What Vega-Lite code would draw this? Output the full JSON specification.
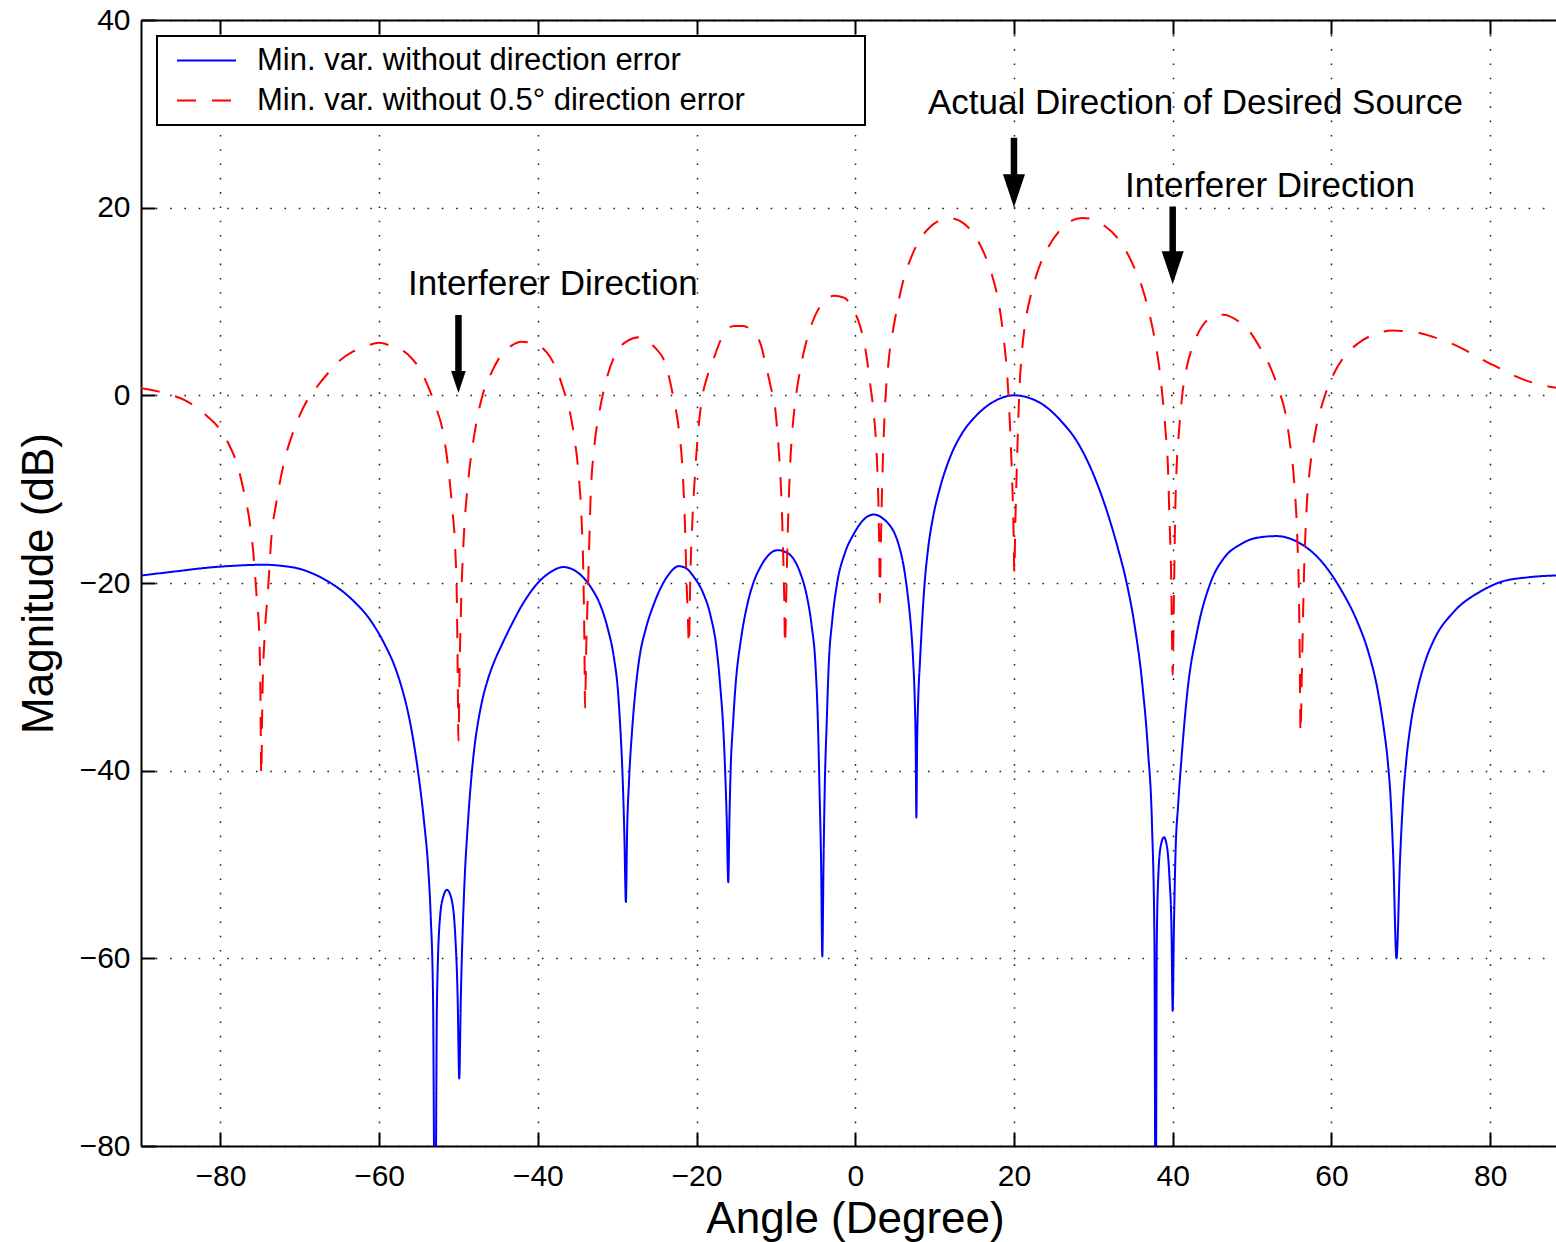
{
  "$schema": "https://vega.github.io/schema/vega-lite/v6.json",
  "width": 1415,
  "height": 1126,
  "autosize": {"type": "none"},
  "padding": {"left": 141, "top": 20, "right": 0, "bottom": 96},
  "background": "white",
  "config": {
    "font": "Liberation Sans",
    "view": {"stroke": null},
    "axis": {
      "grid": true,
      "gridColor": "#222222",
      "gridDash": [1.6, 12.7],
      "gridWidth": 1.5,
      "domainColor": "black",
      "domainWidth": 2,
      "tickColor": "black",
      "tickWidth": 2,
      "tickSize": -14,
      "labelFont": "Liberation Sans",
      "labelFontSize": 30,
      "labelColor": "black",
      "titleFont": "Liberation Sans",
      "titleFontSize": 44,
      "titleFontWeight": "normal",
      "titleColor": "black"
    },
    "legend": {
      "strokeColor": "black",
      "strokeWidth": 2,
      "fillColor": "white",
      "padding": 8,
      "labelFont": "Liberation Sans",
      "labelFontSize": 31,
      "labelColor": "black",
      "labelLimit": 1000,
      "symbolType": "stroke",
      "symbolSize": 3481,
      "symbolStrokeWidth": 2,
      "clipHeight": 33,
      "symbolOffset": 11,
      "labelOffset": 20,
      "rowPadding": 7
    }
  },
  "resolve": {"axis": {"x": "independent"}},
  "layer": [
    {
      "data": {
        "values": [
          {"angle": -90, "mag": -19.2, "series": "Min. var. without direction error"},
          {"angle": -86, "mag": -18.8, "series": "Min. var. without direction error"},
          {"angle": -82, "mag": -18.4, "series": "Min. var. without direction error"},
          {"angle": -78, "mag": -18.15, "series": "Min. var. without direction error"},
          {"angle": -74.5, "mag": -18.05, "series": "Min. var. without direction error"},
          {"angle": -72, "mag": -18.2, "series": "Min. var. without direction error"},
          {"angle": -70.2, "mag": -18.45, "series": "Min. var. without direction error"},
          {"angle": -68.2, "mag": -19.05, "series": "Min. var. without direction error"},
          {"angle": -66.4, "mag": -19.85, "series": "Min. var. without direction error"},
          {"angle": -64.5, "mag": -20.95, "series": "Min. var. without direction error"},
          {"angle": -63, "mag": -22.1, "series": "Min. var. without direction error"},
          {"angle": -61.5, "mag": -23.5, "series": "Min. var. without direction error"},
          {"angle": -60.3, "mag": -25.0, "series": "Min. var. without direction error"},
          {"angle": -59.2, "mag": -26.7, "series": "Min. var. without direction error"},
          {"angle": -58, "mag": -28.95, "series": "Min. var. without direction error"},
          {"angle": -57.2, "mag": -31.0, "series": "Min. var. without direction error"},
          {"angle": -56.4, "mag": -33.6, "series": "Min. var. without direction error"},
          {"angle": -55.6, "mag": -37.2, "series": "Min. var. without direction error"},
          {"angle": -54.9, "mag": -41.3, "series": "Min. var. without direction error"},
          {"angle": -54.3, "mag": -45.7, "series": "Min. var. without direction error"},
          {"angle": -53.8, "mag": -50.5, "series": "Min. var. without direction error"},
          {"angle": -53.5, "mag": -55.4, "series": "Min. var. without direction error"},
          {"angle": -53.2, "mag": -64.2, "series": "Min. var. without direction error"},
          {"angle": -52.95, "mag": -95, "series": "Min. var. without direction error"},
          {"angle": -52.7, "mag": -64.2, "series": "Min. var. without direction error"},
          {"angle": -52.3, "mag": -55.4, "series": "Min. var. without direction error"},
          {"angle": -51.9, "mag": -53.4, "series": "Min. var. without direction error"},
          {"angle": -51.45, "mag": -52.7, "series": "Min. var. without direction error"},
          {"angle": -50.9, "mag": -53.6, "series": "Min. var. without direction error"},
          {"angle": -50.4, "mag": -57.6, "series": "Min. var. without direction error"},
          {"angle": -50.1, "mag": -64.2, "series": "Min. var. without direction error"},
          {"angle": -49.9, "mag": -72.8, "series": "Min. var. without direction error"},
          {"angle": -49.7, "mag": -64.2, "series": "Min. var. without direction error"},
          {"angle": -49.3, "mag": -53.2, "series": "Min. var. without direction error"},
          {"angle": -48.8, "mag": -45.5, "series": "Min. var. without direction error"},
          {"angle": -48.4, "mag": -41.0, "series": "Min. var. without direction error"},
          {"angle": -48.0, "mag": -37.6, "series": "Min. var. without direction error"},
          {"angle": -47.5, "mag": -34.7, "series": "Min. var. without direction error"},
          {"angle": -47.0, "mag": -32.5, "series": "Min. var. without direction error"},
          {"angle": -46.3, "mag": -30.3, "series": "Min. var. without direction error"},
          {"angle": -45.5, "mag": -28.4, "series": "Min. var. without direction error"},
          {"angle": -44.6, "mag": -26.7, "series": "Min. var. without direction error"},
          {"angle": -43.4, "mag": -24.6, "series": "Min. var. without direction error"},
          {"angle": -41.8, "mag": -22.1, "series": "Min. var. without direction error"},
          {"angle": -40, "mag": -20, "series": "Min. var. without direction error"},
          {"angle": -38.5, "mag": -18.9, "series": "Min. var. without direction error"},
          {"angle": -36.8, "mag": -18.3, "series": "Min. var. without direction error"},
          {"angle": -35.5, "mag": -18.6, "series": "Min. var. without direction error"},
          {"angle": -34.4, "mag": -19.3, "series": "Min. var. without direction error"},
          {"angle": -33.2, "mag": -20.6, "series": "Min. var. without direction error"},
          {"angle": -32.1, "mag": -22.4, "series": "Min. var. without direction error"},
          {"angle": -31.2, "mag": -24.8, "series": "Min. var. without direction error"},
          {"angle": -30.4, "mag": -28, "series": "Min. var. without direction error"},
          {"angle": -29.9, "mag": -31.5, "series": "Min. var. without direction error"},
          {"angle": -29.6, "mag": -35.5, "series": "Min. var. without direction error"},
          {"angle": -29.3, "mag": -41, "series": "Min. var. without direction error"},
          {"angle": -29.1, "mag": -46.6, "series": "Min. var. without direction error"},
          {"angle": -28.9, "mag": -54, "series": "Min. var. without direction error"},
          {"angle": -28.75, "mag": -46.6, "series": "Min. var. without direction error"},
          {"angle": -28.5, "mag": -41, "series": "Min. var. without direction error"},
          {"angle": -28.1, "mag": -35.5, "series": "Min. var. without direction error"},
          {"angle": -27.7, "mag": -31.5, "series": "Min. var. without direction error"},
          {"angle": -27.2, "mag": -28, "series": "Min. var. without direction error"},
          {"angle": -26.4, "mag": -24.9, "series": "Min. var. without direction error"},
          {"angle": -25.4, "mag": -22.3, "series": "Min. var. without direction error"},
          {"angle": -24.5, "mag": -20.5, "series": "Min. var. without direction error"},
          {"angle": -23.6, "mag": -19.2, "series": "Min. var. without direction error"},
          {"angle": -22.2, "mag": -18.2, "series": "Min. var. without direction error"},
          {"angle": -21.2, "mag": -18.5, "series": "Min. var. without direction error"},
          {"angle": -20.3, "mag": -19.4, "series": "Min. var. without direction error"},
          {"angle": -19.2, "mag": -21, "series": "Min. var. without direction error"},
          {"angle": -18.2, "mag": -23.6, "series": "Min. var. without direction error"},
          {"angle": -17.5, "mag": -26.8, "series": "Min. var. without direction error"},
          {"angle": -17, "mag": -31.1, "series": "Min. var. without direction error"},
          {"angle": -16.6, "mag": -36, "series": "Min. var. without direction error"},
          {"angle": -16.4, "mag": -39.9, "series": "Min. var. without direction error"},
          {"angle": -16.2, "mag": -45, "series": "Min. var. without direction error"},
          {"angle": -16, "mag": -51.9, "series": "Min. var. without direction error"},
          {"angle": -15.85, "mag": -45, "series": "Min. var. without direction error"},
          {"angle": -15.7, "mag": -39.9, "series": "Min. var. without direction error"},
          {"angle": -15.4, "mag": -35, "series": "Min. var. without direction error"},
          {"angle": -15.1, "mag": -31.1, "series": "Min. var. without direction error"},
          {"angle": -14.4, "mag": -26, "series": "Min. var. without direction error"},
          {"angle": -13.6, "mag": -22.3, "series": "Min. var. without direction error"},
          {"angle": -12.8, "mag": -19.9, "series": "Min. var. without direction error"},
          {"angle": -11.95, "mag": -18.3, "series": "Min. var. without direction error"},
          {"angle": -10.9, "mag": -17, "series": "Min. var. without direction error"},
          {"angle": -9.8, "mag": -16.5, "series": "Min. var. without direction error"},
          {"angle": -8.8, "mag": -16.7, "series": "Min. var. without direction error"},
          {"angle": -7.8, "mag": -17.4, "series": "Min. var. without direction error"},
          {"angle": -6.9, "mag": -19, "series": "Min. var. without direction error"},
          {"angle": -6.1, "mag": -21.4, "series": "Min. var. without direction error"},
          {"angle": -5.5, "mag": -24.5, "series": "Min. var. without direction error"},
          {"angle": -5, "mag": -28.9, "series": "Min. var. without direction error"},
          {"angle": -4.7, "mag": -35, "series": "Min. var. without direction error"},
          {"angle": -4.5, "mag": -42.1, "series": "Min. var. without direction error"},
          {"angle": -4.3, "mag": -50, "series": "Min. var. without direction error"},
          {"angle": -4.15, "mag": -59.8, "series": "Min. var. without direction error"},
          {"angle": -4, "mag": -50, "series": "Min. var. without direction error"},
          {"angle": -3.85, "mag": -42.1, "series": "Min. var. without direction error"},
          {"angle": -3.6, "mag": -35, "series": "Min. var. without direction error"},
          {"angle": -3.35, "mag": -28.9, "series": "Min. var. without direction error"},
          {"angle": -2.9, "mag": -24, "series": "Min. var. without direction error"},
          {"angle": -2.3, "mag": -20.1, "series": "Min. var. without direction error"},
          {"angle": -1.3, "mag": -16.8, "series": "Min. var. without direction error"},
          {"angle": -0.2, "mag": -14.8, "series": "Min. var. without direction error"},
          {"angle": 1, "mag": -13.3, "series": "Min. var. without direction error"},
          {"angle": 2.35, "mag": -12.7, "series": "Min. var. without direction error"},
          {"angle": 3.6, "mag": -13.2, "series": "Min. var. without direction error"},
          {"angle": 4.3, "mag": -13.8, "series": "Min. var. without direction error"},
          {"angle": 4.9, "mag": -14.6, "series": "Min. var. without direction error"},
          {"angle": 5.5, "mag": -16.0, "series": "Min. var. without direction error"},
          {"angle": 6.1, "mag": -18.2, "series": "Min. var. without direction error"},
          {"angle": 6.6, "mag": -21.2, "series": "Min. var. without direction error"},
          {"angle": 7.0, "mag": -24.5, "series": "Min. var. without direction error"},
          {"angle": 7.3, "mag": -28.3, "series": "Min. var. without direction error"},
          {"angle": 7.5, "mag": -32.5, "series": "Min. var. without direction error"},
          {"angle": 7.62, "mag": -37.5, "series": "Min. var. without direction error"},
          {"angle": 7.7, "mag": -45, "series": "Min. var. without direction error"},
          {"angle": 7.8, "mag": -37, "series": "Min. var. without direction error"},
          {"angle": 7.95, "mag": -32, "series": "Min. var. without direction error"},
          {"angle": 8.15, "mag": -28.5, "series": "Min. var. without direction error"},
          {"angle": 8.4, "mag": -24.5, "series": "Min. var. without direction error"},
          {"angle": 8.7, "mag": -20.5, "series": "Min. var. without direction error"},
          {"angle": 9.2, "mag": -16.2, "series": "Min. var. without direction error"},
          {"angle": 9.8, "mag": -13, "series": "Min. var. without direction error"},
          {"angle": 10.7, "mag": -9.8, "series": "Min. var. without direction error"},
          {"angle": 12, "mag": -6.5, "series": "Min. var. without direction error"},
          {"angle": 13.5, "mag": -4, "series": "Min. var. without direction error"},
          {"angle": 15.2, "mag": -2.2, "series": "Min. var. without direction error"},
          {"angle": 17, "mag": -0.9, "series": "Min. var. without direction error"},
          {"angle": 18.5, "mag": -0.25, "series": "Min. var. without direction error"},
          {"angle": 20, "mag": 0, "series": "Min. var. without direction error"},
          {"angle": 22, "mag": -0.3, "series": "Min. var. without direction error"},
          {"angle": 24, "mag": -1.2, "series": "Min. var. without direction error"},
          {"angle": 26, "mag": -2.8, "series": "Min. var. without direction error"},
          {"angle": 28, "mag": -5, "series": "Min. var. without direction error"},
          {"angle": 30, "mag": -8.4, "series": "Min. var. without direction error"},
          {"angle": 31.5, "mag": -11.8, "series": "Min. var. without direction error"},
          {"angle": 33, "mag": -16.0, "series": "Min. var. without direction error"},
          {"angle": 34.2, "mag": -20, "series": "Min. var. without direction error"},
          {"angle": 35.2, "mag": -24.5, "series": "Min. var. without direction error"},
          {"angle": 36.2, "mag": -31, "series": "Min. var. without direction error"},
          {"angle": 36.9, "mag": -38, "series": "Min. var. without direction error"},
          {"angle": 37.4, "mag": -46, "series": "Min. var. without direction error"},
          {"angle": 37.7, "mag": -58, "series": "Min. var. without direction error"},
          {"angle": 37.85, "mag": -95, "series": "Min. var. without direction error"},
          {"angle": 38, "mag": -58, "series": "Min. var. without direction error"},
          {"angle": 38.2, "mag": -51, "series": "Min. var. without direction error"},
          {"angle": 38.5, "mag": -48, "series": "Min. var. without direction error"},
          {"angle": 38.9, "mag": -47.1, "series": "Min. var. without direction error"},
          {"angle": 39.3, "mag": -48.2, "series": "Min. var. without direction error"},
          {"angle": 39.6, "mag": -51.5, "series": "Min. var. without direction error"},
          {"angle": 39.85, "mag": -57, "series": "Min. var. without direction error"},
          {"angle": 40, "mag": -65.6, "series": "Min. var. without direction error"},
          {"angle": 40.15, "mag": -57, "series": "Min. var. without direction error"},
          {"angle": 40.35, "mag": -49, "series": "Min. var. without direction error"},
          {"angle": 40.7, "mag": -43.5, "series": "Min. var. without direction error"},
          {"angle": 41.1, "mag": -38.8, "series": "Min. var. without direction error"},
          {"angle": 41.85, "mag": -31.6, "series": "Min. var. without direction error"},
          {"angle": 43.1, "mag": -25.1, "series": "Min. var. without direction error"},
          {"angle": 44.8, "mag": -19.9, "series": "Min. var. without direction error"},
          {"angle": 46.5, "mag": -17.3, "series": "Min. var. without direction error"},
          {"angle": 48.5, "mag": -15.9, "series": "Min. var. without direction error"},
          {"angle": 50.5, "mag": -15.2, "series": "Min. var. without direction error"},
          {"angle": 53.1, "mag": -15, "series": "Min. var. without direction error"},
          {"angle": 56.1, "mag": -15.8, "series": "Min. var. without direction error"},
          {"angle": 58.65, "mag": -17.6, "series": "Min. var. without direction error"},
          {"angle": 61.2, "mag": -20.7, "series": "Min. var. without direction error"},
          {"angle": 63.2, "mag": -24.0, "series": "Min. var. without direction error"},
          {"angle": 64.6, "mag": -27.2, "series": "Min. var. without direction error"},
          {"angle": 65.8, "mag": -31.3, "series": "Min. var. without direction error"},
          {"angle": 66.6, "mag": -35.5, "series": "Min. var. without direction error"},
          {"angle": 67.1, "mag": -39, "series": "Min. var. without direction error"},
          {"angle": 67.5, "mag": -43.5, "series": "Min. var. without direction error"},
          {"angle": 67.8, "mag": -49.4, "series": "Min. var. without direction error"},
          {"angle": 68.2, "mag": -60, "series": "Min. var. without direction error"},
          {"angle": 68.65, "mag": -49.4, "series": "Min. var. without direction error"},
          {"angle": 69, "mag": -43.5, "series": "Min. var. without direction error"},
          {"angle": 69.4, "mag": -39.2, "series": "Min. var. without direction error"},
          {"angle": 70, "mag": -35.0, "series": "Min. var. without direction error"},
          {"angle": 70.8, "mag": -31.5, "series": "Min. var. without direction error"},
          {"angle": 71.8, "mag": -28.4, "series": "Min. var. without direction error"},
          {"angle": 72.9, "mag": -26.1, "series": "Min. var. without direction error"},
          {"angle": 75.5, "mag": -23, "series": "Min. var. without direction error"},
          {"angle": 78.8, "mag": -20.9, "series": "Min. var. without direction error"},
          {"angle": 81.3, "mag": -19.9, "series": "Min. var. without direction error"},
          {"angle": 84.7, "mag": -19.4, "series": "Min. var. without direction error"},
          {"angle": 88.3, "mag": -19.2, "series": "Min. var. without direction error"},

          {"angle": -90, "mag": 0.75, "series": "Min. var. without 0.5° direction error"},
          {"angle": -88, "mag": 0.45, "series": "Min. var. without 0.5° direction error"},
          {"angle": -86.1, "mag": 0, "series": "Min. var. without 0.5° direction error"},
          {"angle": -84.5, "mag": -0.5, "series": "Min. var. without 0.5° direction error"},
          {"angle": -83.6, "mag": -0.95, "series": "Min. var. without 0.5° direction error"},
          {"angle": -81.7, "mag": -2.2, "series": "Min. var. without 0.5° direction error"},
          {"angle": -80, "mag": -3.7, "series": "Min. var. without 0.5° direction error"},
          {"angle": -79, "mag": -5.1, "series": "Min. var. without 0.5° direction error"},
          {"angle": -77.7, "mag": -7.9, "series": "Min. var. without 0.5° direction error"},
          {"angle": -76.9, "mag": -10.8, "series": "Min. var. without 0.5° direction error"},
          {"angle": -76.3, "mag": -13.5, "series": "Min. var. without 0.5° direction error"},
          {"angle": -75.8, "mag": -17.2, "series": "Min. var. without 0.5° direction error"},
          {"angle": -75.4, "mag": -21.8, "series": "Min. var. without 0.5° direction error"},
          {"angle": -75.1, "mag": -25.4, "series": "Min. var. without 0.5° direction error"},
          {"angle": -74.95, "mag": -32, "series": "Min. var. without 0.5° direction error"},
          {"angle": -74.85, "mag": -40.5, "series": "Min. var. without 0.5° direction error"},
          {"angle": -74.7, "mag": -32, "series": "Min. var. without 0.5° direction error"},
          {"angle": -74.4, "mag": -25.4, "series": "Min. var. without 0.5° direction error"},
          {"angle": -74, "mag": -20.8, "series": "Min. var. without 0.5° direction error"},
          {"angle": -73.6, "mag": -15.5, "series": "Min. var. without 0.5° direction error"},
          {"angle": -72.9, "mag": -11.2, "series": "Min. var. without 0.5° direction error"},
          {"angle": -71.9, "mag": -6.9, "series": "Min. var. without 0.5° direction error"},
          {"angle": -70.6, "mag": -3.4, "series": "Min. var. without 0.5° direction error"},
          {"angle": -69.3, "mag": -0.9, "series": "Min. var. without 0.5° direction error"},
          {"angle": -68.1, "mag": 0.6, "series": "Min. var. without 0.5° direction error"},
          {"angle": -66.5, "mag": 2.3, "series": "Min. var. without 0.5° direction error"},
          {"angle": -65.1, "mag": 3.6, "series": "Min. var. without 0.5° direction error"},
          {"angle": -63.2, "mag": 4.7, "series": "Min. var. without 0.5° direction error"},
          {"angle": -61.5, "mag": 5.3, "series": "Min. var. without 0.5° direction error"},
          {"angle": -60, "mag": 5.6, "series": "Min. var. without 0.5° direction error"},
          {"angle": -58.6, "mag": 5.3, "series": "Min. var. without 0.5° direction error"},
          {"angle": -56.3, "mag": 4.3, "series": "Min. var. without 0.5° direction error"},
          {"angle": -54.8, "mag": 2.7, "series": "Min. var. without 0.5° direction error"},
          {"angle": -53.8, "mag": 0.9, "series": "Min. var. without 0.5° direction error"},
          {"angle": -52.96, "mag": -1.0, "series": "Min. var. without 0.5° direction error"},
          {"angle": -51.9, "mag": -4.1, "series": "Min. var. without 0.5° direction error"},
          {"angle": -51.3, "mag": -7.6, "series": "Min. var. without 0.5° direction error"},
          {"angle": -50.8, "mag": -11.9, "series": "Min. var. without 0.5° direction error"},
          {"angle": -50.4, "mag": -16.5, "series": "Min. var. without 0.5° direction error"},
          {"angle": -50.2, "mag": -21.8, "series": "Min. var. without 0.5° direction error"},
          {"angle": -50.1, "mag": -29, "series": "Min. var. without 0.5° direction error"},
          {"angle": -50, "mag": -36.8, "series": "Min. var. without 0.5° direction error"},
          {"angle": -49.85, "mag": -29, "series": "Min. var. without 0.5° direction error"},
          {"angle": -49.65, "mag": -21.8, "series": "Min. var. without 0.5° direction error"},
          {"angle": -49.3, "mag": -14.7, "series": "Min. var. without 0.5° direction error"},
          {"angle": -48.8, "mag": -9.4, "series": "Min. var. without 0.5° direction error"},
          {"angle": -47.9, "mag": -3.7, "series": "Min. var. without 0.5° direction error"},
          {"angle": -46.9, "mag": 0.2, "series": "Min. var. without 0.5° direction error"},
          {"angle": -45.8, "mag": 2.5, "series": "Min. var. without 0.5° direction error"},
          {"angle": -44.6, "mag": 4.3, "series": "Min. var. without 0.5° direction error"},
          {"angle": -43.3, "mag": 5.3, "series": "Min. var. without 0.5° direction error"},
          {"angle": -42.05, "mag": 5.7, "series": "Min. var. without 0.5° direction error"},
          {"angle": -40.8, "mag": 5.6, "series": "Min. var. without 0.5° direction error"},
          {"angle": -38.9, "mag": 4.6, "series": "Min. var. without 0.5° direction error"},
          {"angle": -37.6, "mag": 2.7, "series": "Min. var. without 0.5° direction error"},
          {"angle": -36.8, "mag": 0.7, "series": "Min. var. without 0.5° direction error"},
          {"angle": -36, "mag": -1.6, "series": "Min. var. without 0.5° direction error"},
          {"angle": -35.4, "mag": -4.5, "series": "Min. var. without 0.5° direction error"},
          {"angle": -34.9, "mag": -8, "series": "Min. var. without 0.5° direction error"},
          {"angle": -34.5, "mag": -13, "series": "Min. var. without 0.5° direction error"},
          {"angle": -34.25, "mag": -19.5, "series": "Min. var. without 0.5° direction error"},
          {"angle": -34.12, "mag": -27, "series": "Min. var. without 0.5° direction error"},
          {"angle": -34.05, "mag": -33.3, "series": "Min. var. without 0.5° direction error"},
          {"angle": -33.9, "mag": -27, "series": "Min. var. without 0.5° direction error"},
          {"angle": -33.65, "mag": -19.9, "series": "Min. var. without 0.5° direction error"},
          {"angle": -33.35, "mag": -11, "series": "Min. var. without 0.5° direction error"},
          {"angle": -32.9, "mag": -5.6, "series": "Min. var. without 0.5° direction error"},
          {"angle": -32.3, "mag": -2.1, "series": "Min. var. without 0.5° direction error"},
          {"angle": -31.3, "mag": 1.85, "series": "Min. var. without 0.5° direction error"},
          {"angle": -30, "mag": 4.7, "series": "Min. var. without 0.5° direction error"},
          {"angle": -28.7, "mag": 5.8, "series": "Min. var. without 0.5° direction error"},
          {"angle": -27.3, "mag": 6.2, "series": "Min. var. without 0.5° direction error"},
          {"angle": -26.2, "mag": 5.8, "series": "Min. var. without 0.5° direction error"},
          {"angle": -25.2, "mag": 5.05, "series": "Min. var. without 0.5° direction error"},
          {"angle": -23.9, "mag": 3.3, "series": "Min. var. without 0.5° direction error"},
          {"angle": -22.9, "mag": -0.3, "series": "Min. var. without 0.5° direction error"},
          {"angle": -22.2, "mag": -3.8, "series": "Min. var. without 0.5° direction error"},
          {"angle": -21.8, "mag": -7.4, "series": "Min. var. without 0.5° direction error"},
          {"angle": -21.5, "mag": -12.7, "series": "Min. var. without 0.5° direction error"},
          {"angle": -21.25, "mag": -19.9, "series": "Min. var. without 0.5° direction error"},
          {"angle": -21.1, "mag": -23.5, "series": "Min. var. without 0.5° direction error"},
          {"angle": -20.95, "mag": -26.6, "series": "Min. var. without 0.5° direction error"},
          {"angle": -20.8, "mag": -20, "series": "Min. var. without 0.5° direction error"},
          {"angle": -20.5, "mag": -13, "series": "Min. var. without 0.5° direction error"},
          {"angle": -20.2, "mag": -8.5, "series": "Min. var. without 0.5° direction error"},
          {"angle": -19.9, "mag": -4.9, "series": "Min. var. without 0.5° direction error"},
          {"angle": -19.3, "mag": -0.3, "series": "Min. var. without 0.5° direction error"},
          {"angle": -18.7, "mag": 1.85, "series": "Min. var. without 0.5° direction error"},
          {"angle": -17.8, "mag": 4, "series": "Min. var. without 0.5° direction error"},
          {"angle": -17, "mag": 5.8, "series": "Min. var. without 0.5° direction error"},
          {"angle": -15.3, "mag": 7.4, "series": "Min. var. without 0.5° direction error"},
          {"angle": -14.1, "mag": 7.4, "series": "Min. var. without 0.5° direction error"},
          {"angle": -13, "mag": 6.8, "series": "Min. var. without 0.5° direction error"},
          {"angle": -11.9, "mag": 5.4, "series": "Min. var. without 0.5° direction error"},
          {"angle": -11.3, "mag": 3.3, "series": "Min. var. without 0.5° direction error"},
          {"angle": -10.7, "mag": 1.1, "series": "Min. var. without 0.5° direction error"},
          {"angle": -10, "mag": -2.1, "series": "Min. var. without 0.5° direction error"},
          {"angle": -9.6, "mag": -6.3, "series": "Min. var. without 0.5° direction error"},
          {"angle": -9.3, "mag": -11, "series": "Min. var. without 0.5° direction error"},
          {"angle": -9.1, "mag": -16.3, "series": "Min. var. without 0.5° direction error"},
          {"angle": -8.95, "mag": -21.6, "series": "Min. var. without 0.5° direction error"},
          {"angle": -8.85, "mag": -26.6, "series": "Min. var. without 0.5° direction error"},
          {"angle": -8.7, "mag": -21.6, "series": "Min. var. without 0.5° direction error"},
          {"angle": -8.5, "mag": -14.5, "series": "Min. var. without 0.5° direction error"},
          {"angle": -8.2, "mag": -7.4, "series": "Min. var. without 0.5° direction error"},
          {"angle": -7.9, "mag": -3.5, "series": "Min. var. without 0.5° direction error"},
          {"angle": -7.5, "mag": -0.3, "series": "Min. var. without 0.5° direction error"},
          {"angle": -6.9, "mag": 2.9, "series": "Min. var. without 0.5° direction error"},
          {"angle": -6.05, "mag": 6.1, "series": "Min. var. without 0.5° direction error"},
          {"angle": -5, "mag": 8.6, "series": "Min. var. without 0.5° direction error"},
          {"angle": -3.7, "mag": 10.2, "series": "Min. var. without 0.5° direction error"},
          {"angle": -2.7, "mag": 10.6, "series": "Min. var. without 0.5° direction error"},
          {"angle": -1.4, "mag": 10.4, "series": "Min. var. without 0.5° direction error"},
          {"angle": -0.3, "mag": 9.2, "series": "Min. var. without 0.5° direction error"},
          {"angle": 0.6, "mag": 7.4, "series": "Min. var. without 0.5° direction error"},
          {"angle": 1.3, "mag": 4.8, "series": "Min. var. without 0.5° direction error"},
          {"angle": 1.9, "mag": 1.1, "series": "Min. var. without 0.5° direction error"},
          {"angle": 2.35, "mag": -2.1, "series": "Min. var. without 0.5° direction error"},
          {"angle": 2.7, "mag": -6.3, "series": "Min. var. without 0.5° direction error"},
          {"angle": 2.95, "mag": -12.7, "series": "Min. var. without 0.5° direction error"},
          {"angle": 3.05, "mag": -18, "series": "Min. var. without 0.5° direction error"},
          {"angle": 3.1, "mag": -22.1, "series": "Min. var. without 0.5° direction error"},
          {"angle": 3.2, "mag": -17, "series": "Min. var. without 0.5° direction error"},
          {"angle": 3.35, "mag": -11, "series": "Min. var. without 0.5° direction error"},
          {"angle": 3.7, "mag": -2.1, "series": "Min. var. without 0.5° direction error"},
          {"angle": 4.2, "mag": 3.6, "series": "Min. var. without 0.5° direction error"},
          {"angle": 4.9, "mag": 7.6, "series": "Min. var. without 0.5° direction error"},
          {"angle": 5.5, "mag": 10.2, "series": "Min. var. without 0.5° direction error"},
          {"angle": 6.1, "mag": 12.4, "series": "Min. var. without 0.5° direction error"},
          {"angle": 7, "mag": 14.6, "series": "Min. var. without 0.5° direction error"},
          {"angle": 8, "mag": 16.4, "series": "Min. var. without 0.5° direction error"},
          {"angle": 9.5, "mag": 18, "series": "Min. var. without 0.5° direction error"},
          {"angle": 10.5, "mag": 18.6, "series": "Min. var. without 0.5° direction error"},
          {"angle": 11.6, "mag": 18.9, "series": "Min. var. without 0.5° direction error"},
          {"angle": 12.6, "mag": 18.8, "series": "Min. var. without 0.5° direction error"},
          {"angle": 13.7, "mag": 18.3, "series": "Min. var. without 0.5° direction error"},
          {"angle": 15.0, "mag": 17.1, "series": "Min. var. without 0.5° direction error"},
          {"angle": 16.2, "mag": 15.2, "series": "Min. var. without 0.5° direction error"},
          {"angle": 17.2, "mag": 12.9, "series": "Min. var. without 0.5° direction error"},
          {"angle": 18.0, "mag": 10.2, "series": "Min. var. without 0.5° direction error"},
          {"angle": 18.7, "mag": 6.1, "series": "Min. var. without 0.5° direction error"},
          {"angle": 19.2, "mag": 1.5, "series": "Min. var. without 0.5° direction error"},
          {"angle": 19.55, "mag": -4.2, "series": "Min. var. without 0.5° direction error"},
          {"angle": 19.78, "mag": -9.3, "series": "Min. var. without 0.5° direction error"},
          {"angle": 19.95, "mag": -14.5, "series": "Min. var. without 0.5° direction error"},
          {"angle": 20.05, "mag": -18.9, "series": "Min. var. without 0.5° direction error"},
          {"angle": 20.15, "mag": -14.5, "series": "Min. var. without 0.5° direction error"},
          {"angle": 20.3, "mag": -9.5, "series": "Min. var. without 0.5° direction error"},
          {"angle": 20.5, "mag": -3.8, "series": "Min. var. without 0.5° direction error"},
          {"angle": 20.7, "mag": 0.8, "series": "Min. var. without 0.5° direction error"},
          {"angle": 21, "mag": 4.6, "series": "Min. var. without 0.5° direction error"},
          {"angle": 21.4, "mag": 7.6, "series": "Min. var. without 0.5° direction error"},
          {"angle": 22.1, "mag": 10.6, "series": "Min. var. without 0.5° direction error"},
          {"angle": 22.9, "mag": 13, "series": "Min. var. without 0.5° direction error"},
          {"angle": 24.2, "mag": 15.6, "series": "Min. var. without 0.5° direction error"},
          {"angle": 25.8, "mag": 17.6, "series": "Min. var. without 0.5° direction error"},
          {"angle": 27.2, "mag": 18.6, "series": "Min. var. without 0.5° direction error"},
          {"angle": 28.6, "mag": 18.9, "series": "Min. var. without 0.5° direction error"},
          {"angle": 30, "mag": 18.75, "series": "Min. var. without 0.5° direction error"},
          {"angle": 31.2, "mag": 18.2, "series": "Min. var. without 0.5° direction error"},
          {"angle": 33, "mag": 16.8, "series": "Min. var. without 0.5° direction error"},
          {"angle": 34.9, "mag": 14.1, "series": "Min. var. without 0.5° direction error"},
          {"angle": 36.3, "mag": 11.1, "series": "Min. var. without 0.5° direction error"},
          {"angle": 37.2, "mag": 8.2, "series": "Min. var. without 0.5° direction error"},
          {"angle": 37.8, "mag": 5.7, "series": "Min. var. without 0.5° direction error"},
          {"angle": 38.3, "mag": 3.0, "series": "Min. var. without 0.5° direction error"},
          {"angle": 38.7, "mag": 0, "series": "Min. var. without 0.5° direction error"},
          {"angle": 39.1, "mag": -3.8, "series": "Min. var. without 0.5° direction error"},
          {"angle": 39.4, "mag": -7.6, "series": "Min. var. without 0.5° direction error"},
          {"angle": 39.6, "mag": -13.3, "series": "Min. var. without 0.5° direction error"},
          {"angle": 39.8, "mag": -19, "series": "Min. var. without 0.5° direction error"},
          {"angle": 39.9, "mag": -24.7, "series": "Min. var. without 0.5° direction error"},
          {"angle": 40, "mag": -29.8, "series": "Min. var. without 0.5° direction error"},
          {"angle": 40.1, "mag": -24.7, "series": "Min. var. without 0.5° direction error"},
          {"angle": 40.2, "mag": -19, "series": "Min. var. without 0.5° direction error"},
          {"angle": 40.3, "mag": -13.3, "series": "Min. var. without 0.5° direction error"},
          {"angle": 40.5, "mag": -7.6, "series": "Min. var. without 0.5° direction error"},
          {"angle": 40.8, "mag": -3.8, "series": "Min. var. without 0.5° direction error"},
          {"angle": 41.2, "mag": 0, "series": "Min. var. without 0.5° direction error"},
          {"angle": 41.8, "mag": 3.1, "series": "Min. var. without 0.5° direction error"},
          {"angle": 42.6, "mag": 5.4, "series": "Min. var. without 0.5° direction error"},
          {"angle": 43.9, "mag": 7.6, "series": "Min. var. without 0.5° direction error"},
          {"angle": 45.2, "mag": 8.4, "series": "Min. var. without 0.5° direction error"},
          {"angle": 46.4, "mag": 8.6, "series": "Min. var. without 0.5° direction error"},
          {"angle": 48.1, "mag": 8, "series": "Min. var. without 0.5° direction error"},
          {"angle": 49.6, "mag": 6.9, "series": "Min. var. without 0.5° direction error"},
          {"angle": 51.05, "mag": 5, "series": "Min. var. without 0.5° direction error"},
          {"angle": 52.3, "mag": 3.0, "series": "Min. var. without 0.5° direction error"},
          {"angle": 53.4, "mag": 0.5, "series": "Min. var. without 0.5° direction error"},
          {"angle": 54.2, "mag": -1.9, "series": "Min. var. without 0.5° direction error"},
          {"angle": 54.8, "mag": -5.3, "series": "Min. var. without 0.5° direction error"},
          {"angle": 55.3, "mag": -9.1, "series": "Min. var. without 0.5° direction error"},
          {"angle": 55.7, "mag": -15.2, "series": "Min. var. without 0.5° direction error"},
          {"angle": 55.9, "mag": -20.9, "series": "Min. var. without 0.5° direction error"},
          {"angle": 56.02, "mag": -28.5, "series": "Min. var. without 0.5° direction error"},
          {"angle": 56.1, "mag": -36, "series": "Min. var. without 0.5° direction error"},
          {"angle": 56.3, "mag": -28.5, "series": "Min. var. without 0.5° direction error"},
          {"angle": 56.55, "mag": -19, "series": "Min. var. without 0.5° direction error"},
          {"angle": 56.9, "mag": -11.6, "series": "Min. var. without 0.5° direction error"},
          {"angle": 57.35, "mag": -7.4, "series": "Min. var. without 0.5° direction error"},
          {"angle": 58, "mag": -3.8, "series": "Min. var. without 0.5° direction error"},
          {"angle": 59, "mag": -0.5, "series": "Min. var. without 0.5° direction error"},
          {"angle": 60.3, "mag": 2.3, "series": "Min. var. without 0.5° direction error"},
          {"angle": 61.6, "mag": 4.1, "series": "Min. var. without 0.5° direction error"},
          {"angle": 63.3, "mag": 5.5, "series": "Min. var. without 0.5° direction error"},
          {"angle": 65.4, "mag": 6.5, "series": "Min. var. without 0.5° direction error"},
          {"angle": 67.7, "mag": 6.9, "series": "Min. var. without 0.5° direction error"},
          {"angle": 70, "mag": 6.8, "series": "Min. var. without 0.5° direction error"},
          {"angle": 72.9, "mag": 6.2, "series": "Min. var. without 0.5° direction error"},
          {"angle": 74.6, "mag": 5.7, "series": "Min. var. without 0.5° direction error"},
          {"angle": 76.7, "mag": 4.9, "series": "Min. var. without 0.5° direction error"},
          {"angle": 78.8, "mag": 3.9, "series": "Min. var. without 0.5° direction error"},
          {"angle": 80.9, "mag": 3.0, "series": "Min. var. without 0.5° direction error"},
          {"angle": 83, "mag": 2.1, "series": "Min. var. without 0.5° direction error"},
          {"angle": 85.55, "mag": 1.3, "series": "Min. var. without 0.5° direction error"},
          {"angle": 88.3, "mag": 0.8, "series": "Min. var. without 0.5° direction error"}
        ]
      },
      "mark": {"type": "line", "strokeWidth": 2, "clip": true, "interpolate": "monotone"},
      "encoding": {
        "x": {
          "field": "angle", "type": "quantitative",
          "scale": {"domain": [-90, 88.3], "nice": false, "zero": false},
          "axis": {
            "orient": "bottom",
            "values": [-80, -60, -40, -20, 0, 20, 40, 60, 80],
            "title": "Angle (Degree)",
            "titleX": 714,
            "labelPadding": 29,
            "titlePadding": 6,
            "labelFlush": false,
            "labelOverlap": false
          }
        },
        "y": {
          "field": "mag", "type": "quantitative",
          "scale": {"domain": [-80, 40], "nice": false, "zero": false},
          "axis": {
            "values": [-80, -60, -40, -20, 0, 20, 40],
            "title": "Magnitude (dB)",
            "labelPadding": 25,
            "titlePadding": 18,
            "labelFlush": false,
            "labelOverlap": false
          }
        },
        "color": {
          "field": "series", "type": "nominal",
          "scale": {
            "domain": ["Min. var. without direction error", "Min. var. without 0.5° direction error"],
            "range": ["#0000ff", "#ff0000"]
          },
          "legend": {
            "title": null,
            "orient": "none",
            "legendX": 16,
            "legendY": 16,
            "labelExpr": "pad(datum.label, 51, '\u00a0') + '\u200b'"
          }
        },
        "strokeDash": {
          "field": "series", "type": "nominal",
          "scale": {
            "domain": ["Min. var. without direction error", "Min. var. without 0.5° direction error"],
            "range": [[1, 0], [19, 16]]
          },
          "legend": {
            "title": null,
            "orient": "none",
            "legendX": 16,
            "legendY": 16,
            "labelExpr": "pad(datum.label, 51, '\u00a0') + '\u200b'"
          }
        }
      }
    },
    {
      "data": {
        "values": [
          {"angle": -50, "mag": 8.56, "base": 2.4},
          {"angle": 20, "mag": 27.45, "base": 23.3},
          {"angle": 40, "mag": 20.12, "base": 15.2}
        ]
      },
      "mark": {"type": "rule", "color": "black", "strokeWidth": 6.5, "strokeCap": "butt"},
      "encoding": {
        "x": {
          "field": "angle", "type": "quantitative",
          "axis": {
            "orient": "top",
            "values": [-80, -60, -40, -20, 0, 20, 40, 60, 80],
            "labels": false,
            "grid": false,
            "title": null
          }
        },
        "y": {"field": "mag", "type": "quantitative"},
        "y2": {"field": "base"}
      }
    },
    {
      "data": {"values": [{"angle": -50, "mag": 1.43}]},
      "mark": {"type": "point", "shape": "M-0.667,-1L0.667,-1L0,1Z", "filled": true, "color": "black", "opacity": 1, "size": 484},
      "encoding": {
        "x": {"field": "angle", "type": "quantitative", "axis": null},
        "y": {"field": "mag", "type": "quantitative"}
      }
    },
    {
      "data": {"values": [{"angle": 20, "mag": 21.79}, {"angle": 40, "mag": 13.6}]},
      "mark": {"type": "point", "shape": "M-0.667,-1L0.667,-1L0,1Z", "filled": true, "color": "black", "opacity": 1, "size": 1089},
      "encoding": {
        "x": {"field": "angle", "type": "quantitative", "axis": null},
        "y": {"field": "mag", "type": "quantitative"}
      }
    },
    {
      "data": {
        "values": [
          {"angle": -56.36, "mag": 10.66, "label": "Interferer Direction"},
          {"angle": 9.17, "mag": 30.02, "label": "Actual Direction of Desired Source"},
          {"angle": 34.0, "mag": 21.13, "label": "Interferer Direction"}
        ]
      },
      "mark": {"type": "text", "align": "left", "baseline": "alphabetic", "fontSize": 35, "font": "Liberation Sans", "color": "black"},
      "encoding": {
        "x": {"field": "angle", "type": "quantitative", "axis": null},
        "y": {"field": "mag", "type": "quantitative"},
        "text": {"field": "label", "type": "nominal"}
      }
    }
  ]
}
